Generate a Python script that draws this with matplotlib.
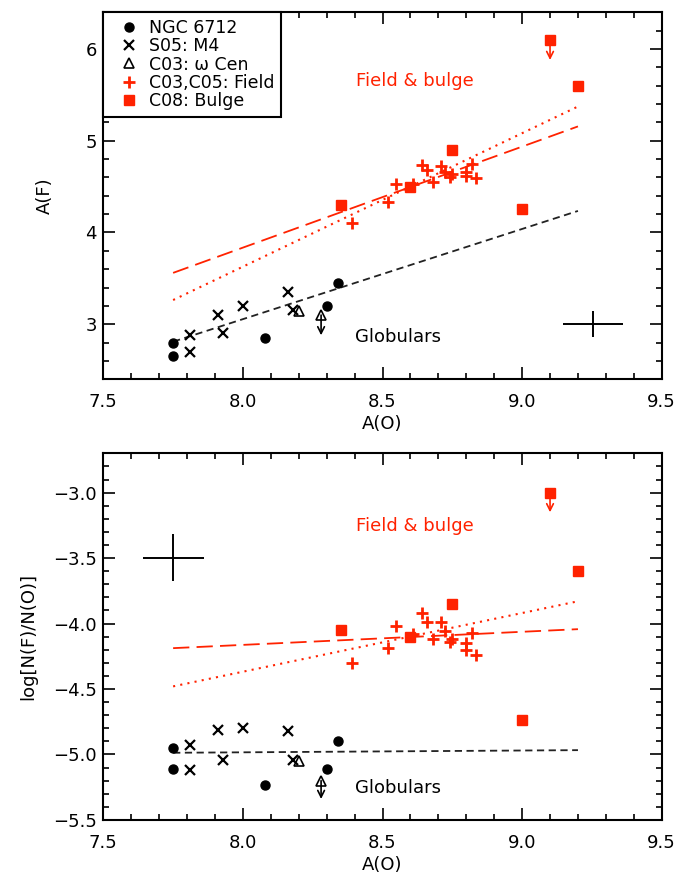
import numpy as np
import matplotlib
matplotlib.use('Agg')
import matplotlib.pyplot as plt
from matplotlib.ticker import MultipleLocator, FuncFormatter

plt.rcParams['font.family'] = ['DejaVu Sans']
plt.rcParams['font.size'] = 13

RED = '#ff2200'

# NGC 6712 (filled circles)
ngc_x = [7.75, 7.75, 8.08, 8.30, 8.34]
ngc_af = [2.80, 2.65, 2.85, 3.20, 3.45]
ngc_nfo = [-4.95, -5.11, -5.23, -5.11, -4.90]

# S05: M4 (crosses)
m4_x = [7.81, 7.81, 7.91, 7.93, 8.00, 8.16, 8.18]
m4_af = [2.88, 2.70, 3.10, 2.90, 3.20, 3.35, 3.15]
m4_nfo = [-4.93, -5.12, -4.81, -5.04, -4.80, -4.82, -5.04]

# C03: omega Cen (triangle), plus one upper limit
wcen_x = [8.20]
wcen_af = [3.14]
wcen_nfo = [-5.05]
wcen_lim_x = [8.28]
wcen_lim_af = [3.10]
wcen_lim_nfo = [-5.20]

# C03,C05: field (red plus)
field_x = [8.39, 8.52, 8.55, 8.61, 8.64, 8.66, 8.68, 8.71, 8.725, 8.74,
           8.75, 8.80, 8.80, 8.82, 8.835]
field_af = [4.10, 4.33, 4.53, 4.53, 4.74, 4.68, 4.55, 4.72, 4.66, 4.60,
            4.64, 4.62, 4.66, 4.75, 4.59]
field_nfo = [-4.30, -4.19, -4.02, -4.08, -3.92, -3.99, -4.12, -3.99, -4.06, -4.14,
             -4.12, -4.15, -4.20, -4.07, -4.24]

# C08: bulge (red squares), one upper limit
bulge_x = [8.35, 8.60, 8.75, 9.00, 9.20]
bulge_af = [4.30, 4.50, 4.90, 4.26, 5.60]
bulge_nfo = [-4.05, -4.10, -3.85, -4.74, -3.60]
bulge_lim_x = [9.10]
bulge_lim_af = [6.10]
bulge_lim_nfo = [-3.00]

# fit lines (end points)
fit_x = [7.75, 9.20]
glob_fit_af = [2.81, 4.235]
field_fit_af = [3.56, 5.156]
field_fit2_af = [3.264, 5.373]
glob_fit_nfo = [-4.987, -4.967]
field_fit_nfo = [-4.188, -4.043]
field_fit2_nfo = [-4.48, -3.83]

# typical error bars
err_af = (9.253, 3.00, 0.108, 0.14)
err_nfo = (7.751, -3.497, 0.11, 0.178)


def fmt1(v, pos):
    return ('%.1f' % v).replace('-', '\u2212')


def draw_panel(ax, ngc_y, m4_y, wcen_y, wcen_lim_y, field_y, bulge_y, bulge_lim_y,
               glob_fit, field_fit, field_fit2, err, arrow_len):
    ax.plot(fit_x, glob_fit, color='#222222', lw=1.3, dashes=(4, 2.5))
    ax.plot(fit_x, field_fit, color=RED, lw=1.3, dashes=(9, 4))
    ax.plot(fit_x, field_fit2, color=RED, lw=1.5, dashes=(1, 2.5))

    ax.plot(ngc_x, ngc_y, 'o', color='black', ms=6.5, ls='none', label='NGC 6712')
    ax.plot(m4_x, m4_y, 'x', color='black', ms=7.5, mew=1.6, ls='none', label='S05: M4')
    ax.plot(wcen_x, wcen_y, '^', mfc='none', mec='black', ms=7.5, mew=1.2, ls='none',
            label='C03: \u03c9 Cen')
    ax.plot(field_x, field_y, '+', color=RED, ms=9, mew=2.0, ls='none', label='C03,C05: Field')
    ax.plot(bulge_x, bulge_y, 's', color=RED, ms=7.5, ls='none', label='C08: Bulge')

    # upper limits
    ax.plot(wcen_lim_x, wcen_lim_y, '^', mfc='none', mec='black', ms=7.5, mew=1.2, ls='none')
    for x, y in zip(wcen_lim_x, wcen_lim_y):
        ax.annotate('', xy=(x, y - arrow_len[0]), xytext=(x, y),
                    arrowprops=dict(arrowstyle='->', color='black', lw=1.2,
                                    shrinkA=0, shrinkB=0, mutation_scale=12))
    ax.plot(bulge_lim_x, bulge_lim_y, 's', color=RED, ms=7.5, ls='none')
    for x, y in zip(bulge_lim_x, bulge_lim_y):
        ax.annotate('', xy=(x, y - arrow_len[1]), xytext=(x, y),
                    arrowprops=dict(arrowstyle='->', color=RED, lw=1.2,
                                    shrinkA=0, shrinkB=0, mutation_scale=12))

    ex, ey, dx, dy = err
    ax.errorbar([ex], [ey], xerr=[dx], yerr=[dy], fmt='none', ecolor='black',
                elinewidth=1.4, capsize=0)

    ax.set_xlim(7.5, 9.5)
    ax.xaxis.set_major_locator(MultipleLocator(0.5))
    ax.xaxis.set_minor_locator(MultipleLocator(0.1))
    ax.xaxis.set_major_formatter(FuncFormatter(fmt1))
    ax.tick_params(which='both', direction='in', top=True, right=True, width=1.2)
    ax.tick_params(which='major', length=8.5)
    ax.tick_params(which='minor', length=4.3)
    ax.tick_params(axis='x', which='major', pad=10)
    ax.tick_params(axis='y', which='major', pad=4.5)
    for s in ax.spines.values():
        s.set_linewidth(1.5)
    ax.set_xlabel('A(O)', labelpad=3)


fig = plt.figure(figsize=(6.86, 8.76), dpi=100)
ax1 = fig.add_axes([0.1506, 0.567, 0.814, 0.419])
ax2 = fig.add_axes([0.1506, 0.064, 0.814, 0.4185])

draw_panel(ax1, ngc_af, m4_af, wcen_af, wcen_lim_af, field_af, bulge_af, bulge_lim_af,
           glob_fit_af, field_fit_af, field_fit2_af, err_af, (0.22, 0.22))
ax1.set_ylim(2.4, 6.4)
ax1.yaxis.set_major_locator(MultipleLocator(1))
ax1.yaxis.set_minor_locator(MultipleLocator(0.2))
ax1.set_ylabel('A(F)')
ax1.yaxis.set_label_coords(-0.088, 0.5)
ax1.text(8.404, 5.656, 'Field & bulge', color=RED, va='center', ha='left')
ax1.text(8.40, 2.86, 'Globulars', color='black', va='center', ha='left')
leg = ax1.legend(loc='upper left', borderaxespad=0, fancybox=False, framealpha=1,
                 edgecolor='black', numpoints=1, handlelength=2.2, handletextpad=0.05,
                 borderpad=0.38, labelspacing=0.02, fontsize=12.5)
leg.get_frame().set_linewidth(1.5)

draw_panel(ax2, ngc_nfo, m4_nfo, wcen_nfo, wcen_lim_nfo, field_nfo, bulge_nfo, bulge_lim_nfo,
           glob_fit_nfo, field_fit_nfo, field_fit2_nfo, err_nfo, (0.14, 0.15))
ax2.set_ylim(-5.5, -2.7)
ax2.yaxis.set_major_locator(MultipleLocator(0.5))
ax2.yaxis.set_minor_locator(MultipleLocator(0.1))
ax2.yaxis.set_major_formatter(FuncFormatter(fmt1))
ax2.set_ylabel('log[N(F)/N(O)]')
ax2.yaxis.set_label_coords(-0.119, 0.5)
ax2.text(8.404, -3.256, 'Field & bulge', color=RED, va='center', ha='left')
ax2.text(8.40, -5.254, 'Globulars', color='black', va='center', ha='left')

fig.savefig('out.png', dpi=100)
